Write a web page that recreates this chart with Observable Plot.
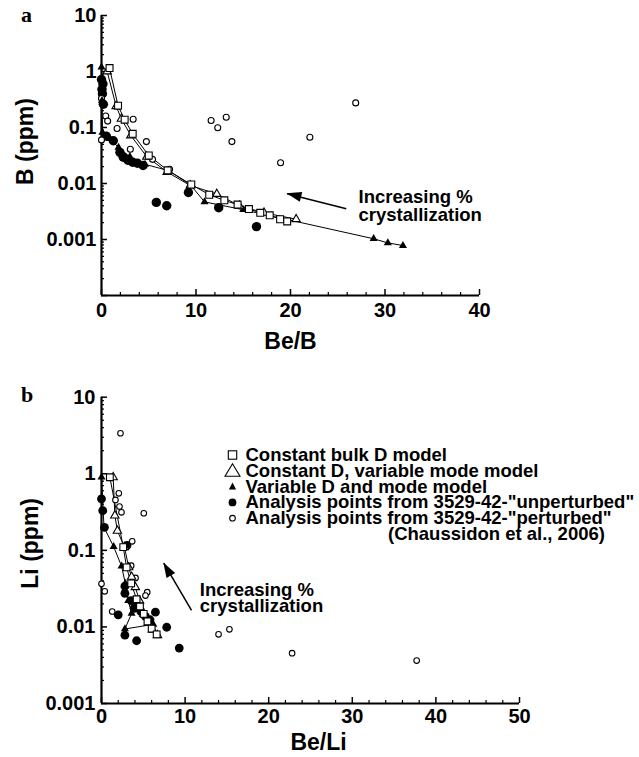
<!DOCTYPE html>
<html><head><meta charset="utf-8">
<script src="https://cdn.jsdelivr.net/npm/d3@7"></script>
<script src="https://cdn.jsdelivr.net/npm/@observablehq/plot@0.6"></script>
<style>
body{margin:0;background:#fff;}
#wrap{position:relative;width:639px;height:757px;overflow:hidden;background:#fff;}
#wrap svg{position:absolute;left:0;overflow:visible;}
</style></head><body><div id="wrap"></div>
<script>
// ---------- Panel a : B (ppm) vs Be/B ----------
const aSquareX = [0.85,1.75,2.45,3.3,5.0,7.0,9.5,11.4,13.0,14.4,15.6,16.8,17.8,18.9,19.65];
const aSquareY = [1.15,0.245,0.138,0.077,0.0316,0.0172,0.0096,0.0063,0.0050,0.0042,0.0035,0.0030,0.0027,0.0023,0.0021];
const aTriOpenX = [0.6,1.55,2.1,3.1,4.8,6.95,9.4,12.2,14.6,17.2,20.6];
const aTriOpenY = [1.0,0.24,0.143,0.072,0.030,0.016,0.0092,0.0065,0.0040,0.0030,0.0023];
const aTriFillX = [0,0.05,0.1,0.9,1.8,3.0,4.6,7.1,9.4,10.9,15.0,28.8,30.3,31.9];
const aTriFillY = [1.2,0.3,0.082,0.063,0.044,0.030,0.022,0.017,0.0095,0.0047,0.0034,0.00103,0.00087,0.00078];
const aCircFillX = [0,0.15,0.05,0.1,0.2,0.5,1.25,1.95,2.3,2.8,3.3,3.8,4.4,5.8,6.9,9.2,12.4,16.4];
const aCircFillY = [0.72,0.6,0.48,0.4,0.26,0.07,0.058,0.036,0.0295,0.026,0.024,0.023,0.021,0.0046,0.0040,0.0069,0.0037,0.0017];
const aCircOpenX = [0,0.45,0.65,0,1.65,3.35,3.05,4.75,5.4,7.2,11.6,12.3,13.2,13.8,18.95,22.05,26.9];
const aCircOpenY = [0.33,0.16,0.13,0.06,0.096,0.14,0.041,0.056,0.027,0.018,0.133,0.099,0.152,0.056,0.0234,0.067,0.275];
const aXDomain = [0,40];
const aYDomain = [1e-4,10];
const aXTickLabels = [0,10,20,30,40];
const aYTickLabels = [10,1,0.1,0.01,0.001];
const aAnnotX = [27.2,27.2];
const aAnnotY = [0.00569,0.00268];
const annotText = ["Increasing %","crystallization"];
const aArrow = {x1:25.9, y1:0.00354, x2:19.63, y2:0.00655};

// ---------- Panel b : Li (ppm) vs Be/Li ----------
const bSquareX = [1.0,2.6,3.0,3.55,4.2,4.6,5.05,5.5,6.0,6.6];
const bSquareY = [0.90,0.11,0.060,0.037,0.023,0.0185,0.0148,0.0118,0.0095,0.0080];
const bTriOpenX = [1.4,1.6,1.9,2.75,3.25,3.6,4.05,4.55,5.05,5.6,6.1,6.7];
const bTriOpenY = [0.90,0.285,0.18,0.11,0.06,0.045,0.033,0.022,0.0148,0.0112,0.0092,0.0078];
const bTriFillX = [0,0.3,1.45,2.4,2.85,3.2,3.6,2.8,6.2];
const bTriFillY = [0.9,0.2,0.112,0.062,0.037,0.022,0.015,0.0094,0.0108];
const bCircFillX = [0,0.15,0.35,3.05,2.8,2.8,2.0,3.55,3.9,4.2,4.7,5.25,5.8,6.45,7.8,2.8,4.2,9.3];
const bCircFillY = [0.47,0.33,0.2,0.116,0.034,0.0275,0.0144,0.022,0.0175,0.0182,0.016,0.0137,0.0124,0.0156,0.0099,0.0078,0.0066,0.0053];
const bCircOpenX = [2.27,2.07,1.67,2.15,2.39,5.06,3.67,3.55,4.07,5.47,5.26,0,0.39,1.28,14.0,15.3,22.8,37.7];
const bCircOpenY = [3.38,0.556,0.456,0.373,0.314,0.305,0.131,0.063,0.0437,0.0284,0.0257,0.0365,0.0292,0.0159,0.0080,0.0093,0.00454,0.00364];
const bXDomain = [0,50];
const bYDomain = [1e-3,10];
const bXTickLabels = [0,10,20,30,40,50];
const bYTickLabels = [10,1,0.1,0.01,0.001];
const bAnnotX = [11.76,11.76];
const bAnnotY = [0.0306,0.0189];
const bArrow = {x1:10.77, y1:0.0164, x2:7.45, y2:0.0683};

const legendLabels = ["Constant bulk D model","Constant D, variable mode model","Variable D and mode model",
  "Analysis points from 3529-42-\"unperturbed\"","Analysis points from 3529-42-\"perturbed\"","(Chaussidon et al., 2006)"];
const legendSymbols = ["squareOpen","triangleOpen","triangleFill","circleFill","circleOpen"];

// ---------- helpers ----------
const FONT = "'Liberation Sans', Arial, Helvetica, sans-serif";
const pts = (xs, ys) => xs.map((x, i) => ({x, y: ys[i]}));
const range = (a, b, s) => d3.range(a, b + s / 2, s);
function logMinor(lo, hi) {
  const out = [];
  for (let e = Math.round(Math.log10(lo)); e < Math.round(Math.log10(hi)); e++)
    for (let k = 2; k <= 9; k++) out.push(k * Math.pow(10, e));
  return out;
}
function logMajor(lo, hi) {
  const out = [];
  for (let e = Math.round(Math.log10(lo)); e <= Math.round(Math.log10(hi)); e++) out.push(Math.pow(10, e));
  return out;
}

function panel(cfg) {
  const [y0] = cfg.yDomain;
  const xMajor = range(cfg.xDomain[0], cfg.xDomain[1], 10);
  const xMinor = range(cfg.xDomain[0], cfg.xDomain[1], 2).filter(v => v % 10 !== 0);
  const dotW = {stroke: "black", strokeWidth: 1.1};
  return Plot.plot({
    width: 639, height: cfg.height,
    marginTop: cfg.mt, marginBottom: cfg.mb, marginLeft: cfg.ml, marginRight: cfg.mr,
    x: {domain: cfg.xDomain, label: null},
    y: {type: "log", domain: cfg.yDomain, label: null},
    style: {fontFamily: FONT, fontWeight: "bold", fontSize: "20px", color: "black", background: "white", overflow: "visible"},
    marks: [
      Plot.ruleY(logMinor(...cfg.yDomain), {y: d => d, x1: 0, x2: cfg.yMinorLen, stroke: "black", strokeWidth: 1.2}),
      Plot.ruleY(logMajor(...cfg.yDomain), {y: d => d, x1: 0, x2: cfg.yMajorLen, stroke: "black", strokeWidth: 1.5}),
      Plot.ruleX(xMinor, {x: d => d, y1: y0, y2: y0 * cfg.xMinorF, stroke: "black", strokeWidth: 1.2}),
      Plot.ruleX(xMajor, {x: d => d, y1: y0, y2: y0 * cfg.xMajorF, stroke: "black", strokeWidth: 1.5}),
      Plot.axisY({ticks: cfg.yLabels, tickFormat: d => String(d), tickSize: 0, tickPadding: cfg.yPad, label: null}),
      Plot.axisX({ticks: cfg.xLabels, tickFormat: d => String(d), tickSize: 0, tickPadding: cfg.xPad, label: null}),
      Plot.ruleX([cfg.xDomain[0]], {stroke: "black", strokeWidth: 2.2}),
      Plot.ruleY([y0], {stroke: "black", strokeWidth: 2.2}),
      Plot.line(cfg.sq, {x: "x", y: "y", stroke: "black", strokeWidth: 1}),
      Plot.line(cfg.to, {x: "x", y: "y", stroke: "black", strokeWidth: 1}),
      Plot.line(cfg.tf, {x: "x", y: "y", stroke: "black", strokeWidth: 1}),
      Plot.dot(cfg.cf, {x: "x", y: "y", r: cfg.rFill, fill: "black"}),
      Plot.dot(cfg.co, {x: "x", y: "y", r: cfg.rOpen, fill: "white", ...dotW}),
      Plot.dot(cfg.tf, {x: "x", y: "y", r: 3.0, symbol: "triangle", fill: "black"}),
      Plot.dot(cfg.to, {x: "x", y: "y", r: 3.1, symbol: "triangle", fill: "white", ...dotW}),
      Plot.dot(cfg.sq, {x: "x", y: "y", r: cfg.rSq, symbol: "square", fill: "white", ...dotW}),
      Plot.link([cfg.arrow], {x1: "x1", y1: "y1", x2: "x2", y2: "y2", stroke: "black", strokeWidth: 1.5}),
      Plot.text(cfg.annot, {x: "x", y: "y", text: "t", textAnchor: "start", lineAnchor: "middle", fontSize: 18.5, fontWeight: "bold"}),
      Plot.text([cfg.xTitle], {frameAnchor: "bottom", textAnchor: "middle", lineAnchor: "middle", dx: cfg.xtDx, dy: cfg.xtDy, fontSize: 23, fontWeight: "bold"}),
      Plot.text([cfg.yTitle], {frameAnchor: "left", textAnchor: "middle", lineAnchor: "middle", dx: cfg.ytDx, dy: cfg.ytDy, rotate: -90, fontSize: 23, fontWeight: "bold"})
    ]
  });
}

function arrowHead(chart, a) {
  const sx = chart.scale("x"), sy = chart.scale("y");
  const x1 = sx.apply(a.x1), y1 = sy.apply(a.y1), x2 = sx.apply(a.x2), y2 = sy.apply(a.y2);
  const dx = x2 - x1, dy = y2 - y1, L = Math.hypot(dx, dy), ux = dx / L, uy = dy / L;
  const len = 15, hw = 5;
  const bx = x2 - ux * len, by = y2 - uy * len;
  d3.select(chart).append("path")
    .attr("d", `M${x2},${y2}L${bx - uy * hw},${by + ux * hw}L${bx + uy * hw},${by - ux * hw}Z`)
    .attr("fill", "black");
}
function panelLetter(chart, letter, x, y) {
  d3.select(chart).append("text").attr("x", x).attr("y", y).attr("text-anchor", "start")
    .attr("font-family", "'Liberation Serif', 'Times New Roman', serif").attr("font-weight", "bold")
    .attr("font-size", 22).text(letter);
}

const wrap = document.getElementById("wrap");

const chartA = panel({
  height: 370, mt: 15, mb: 75, ml: 101, mr: 160,
  xDomain: aXDomain, yDomain: aYDomain, xLabels: aXTickLabels, yLabels: aYTickLabels,
  yMinorLen: 0.32, yMajorLen: 0.63, xMinorF: 1.13, xMajorF: 1.28, xPad: 7, yPad: 5,
  sq: pts(aSquareX, aSquareY), to: pts(aTriOpenX, aTriOpenY), tf: pts(aTriFillX, aTriFillY),
  cf: pts(aCircFillX, aCircFillY), co: pts(aCircOpenX, aCircOpenY),
  rFill: 4.7, rOpen: 3.0, rSq: 3.9,
  arrow: aArrow, annot: aAnnotX.map((x, i) => ({x, y: aAnnotY[i], t: annotText[i]})),
  xTitle: "Be/B", xtDx: 0, xtDy: 46, yTitle: "B (ppm)", ytDx: -76, ytDy: -14
});
chartA.style.top = "0px";
wrap.appendChild(chartA);
arrowHead(chartA, aArrow);
panelLetter(chartA, "a", 21, 22);

const chartB = panel({
  height: 387, mt: 26.7, mb: 54, ml: 101, mr: 120,
  xDomain: bXDomain, yDomain: bYDomain, xLabels: bXTickLabels, yLabels: bYTickLabels,
  yMinorLen: 0.36, yMajorLen: 0.72, xMinorF: 1.094, xMajorF: 1.198, xPad: 5, yPad: 6,
  sq: pts(bSquareX, bSquareY), to: pts(bTriOpenX, bTriOpenY), tf: pts(bTriFillX, bTriFillY),
  cf: pts(bCircFillX, bCircFillY), co: pts(bCircOpenX, bCircOpenY),
  rFill: 4.4, rOpen: 2.8, rSq: 3.8,
  arrow: bArrow, annot: bAnnotX.map((x, i) => ({x, y: bAnnotY[i], t: annotText[i]})),
  xTitle: "Be/Li", xtDx: 8, xtDy: 39, yTitle: "Li (ppm)", ytDx: -71, ytDy: -7
});
chartB.style.top = "370px";
wrap.appendChild(chartB);
arrowHead(chartB, bArrow);
panelLetter(chartB, "b", 21, 32);

// legend (panel b)
(function legend() {
  const g = d3.select(chartB).append("g").attr("text-anchor", "start")
    .attr("font-family", FONT).attr("font-weight", "bold").attr("font-size", 18.5).attr("fill", "black");
  const base = 91, step = 15.8, sx = 232.5, tx = 245.5;
  legendLabels.forEach((t, i) => {
    g.append("text").attr("x", i === 5 ? 388 : tx).attr("y", base + i * step).text(t);
  });
  legendSymbols.forEach((s, i) => {
    const cy = base + i * step - 6;
    if (s === "squareOpen") g.append("rect").attr("x", sx - 4.2).attr("y", cy - 4.2).attr("width", 8.4).attr("height", 8.4)
      .attr("fill", "white").attr("stroke", "black").attr("stroke-width", 1.1);
    if (s === "triangleOpen") g.append("path").attr("d", `M${sx},${cy - 7}L${sx - 7.5},${cy + 5.5}L${sx + 7.5},${cy + 5.5}Z`)
      .attr("fill", "white").attr("stroke", "black").attr("stroke-width", 1.1);
    if (s === "triangleFill") g.append("path").attr("d", `M${sx},${cy - 4}L${sx - 3.6},${cy + 3}L${sx + 3.6},${cy + 3}Z`)
      .attr("fill", "black");
    if (s === "circleFill") g.append("circle").attr("cx", sx).attr("cy", cy).attr("r", 3.9).attr("fill", "black");
    if (s === "circleOpen") g.append("circle").attr("cx", sx).attr("cy", cy).attr("r", 2.8)
      .attr("fill", "white").attr("stroke", "black").attr("stroke-width", 1.1);
  });
})();
</script></body></html>
